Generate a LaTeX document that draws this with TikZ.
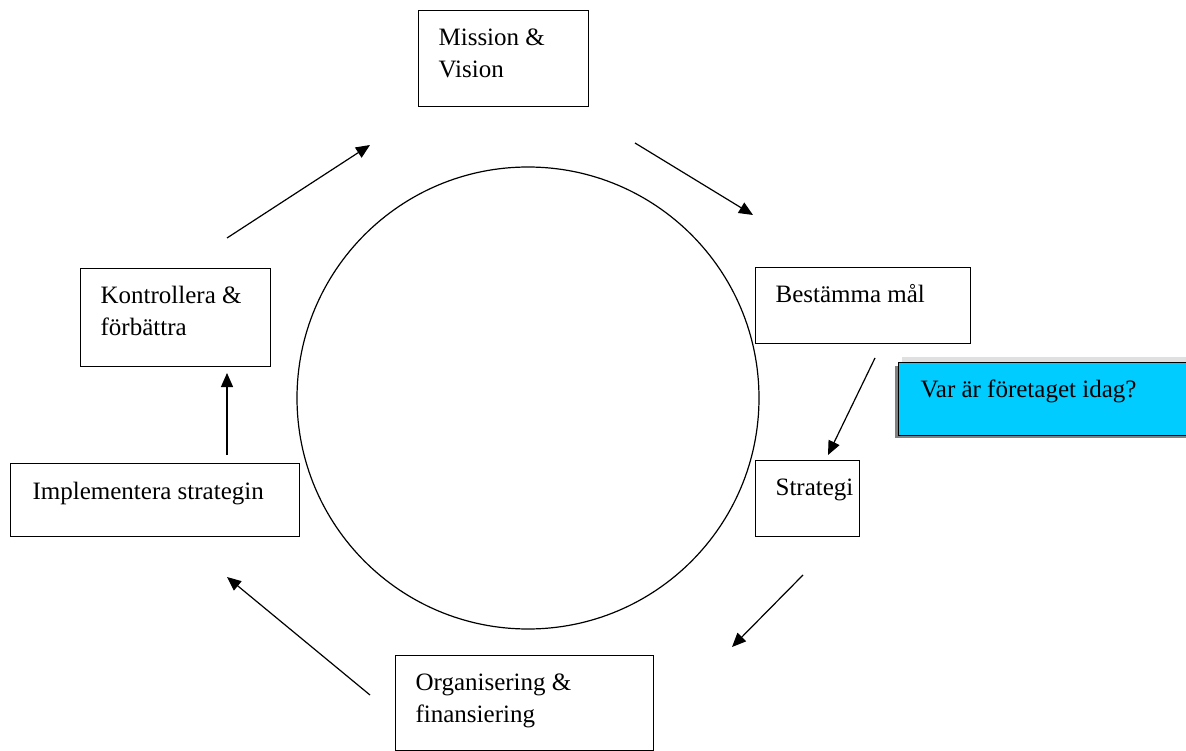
\documentclass[tikz,border=0pt]{standalone}
\usepackage{fontspec}
\setmainfont{Liberation Serif}
\usetikzlibrary{arrows.meta}
\definecolor{skyblue}{RGB}{0,204,255}

\begin{document}
\begin{tikzpicture}[x=1pt,y=-1pt,line width=1.2pt,
  box/.style={draw,rectangle,anchor=north west,inner sep=0pt},
  txt/.style={anchor=north west,inner sep=0pt,align=left,font=\fontsize{25}{32}\selectfont},
  pil/.style={-{Triangle[length=14pt,width=12pt]}}]
  \clip (0,0) rectangle (1186,751);
  % the round
  \draw (528,398) circle (231);
  % boxes
  \node[box,minimum width=170pt,minimum height=96pt] (mission) at (418,10) {};
  \node[txt] (missiontxt) at (438,26) {\rule{0pt}{19pt}Mission \&\\Vision};
  \node[box,minimum width=215pt,minimum height=76pt] (bestam) at (755,267) {};
  \node[txt] (bestamtxt) at (775,283) {\rule{0pt}{19pt}Bestämma mål};
  \fill[black!12] (902,357) rectangle (1200,362);
  \fill[black!50] (895,366) rectangle (1197,438);
  \node[box,fill=skyblue,minimum width=302pt,minimum height=73pt] (idag) at (898,362) {};
  \node[txt] (idagtxt) at (920,378) {\rule{0pt}{19pt}Var är företaget idag?};
  \node[box,minimum width=104pt,minimum height=76pt] (strategi) at (755,460) {};
  \node[txt] (strategitxt) at (775,476) {\rule{0pt}{19pt}Strategi};
  \node[box,minimum width=258pt,minimum height=95pt] (organ) at (395,655) {};
  \node[txt] (organtxt) at (415,671) {\rule{0pt}{19pt}Organisering \&\\finansiering};
  \node[box,minimum width=289pt,minimum height=73pt] (impl) at (10,463) {};
  \node[txt] (impltxt) at (32,480) {\rule{0pt}{19pt}Implementera strategin};
  \node[box,minimum width=190pt,minimum height=98pt] (kontroll) at (80,268) {};
  \node[txt] (kontrolltxt) at (100,284) {\rule{0pt}{19pt}Kontrollera \&\\förbättra};
  % arrow ends
  \coordinate (k1) at (227,238); \coordinate (m1) at (370,145);
  \coordinate (m2) at (635,143); \coordinate (b1) at (753,215);
  \coordinate (b2) at (875,358); \coordinate (s1) at (828,455);
  \coordinate (s2) at (803,575); \coordinate (o1) at (732,647);
  \coordinate (o2) at (370,695); \coordinate (i1) at (227,577);
  \coordinate (i2) at (227,455); \coordinate (k2) at (227,373);
  \draw[pil] (k1) -- (m1);
  \draw[pil] (m2) -- (b1);
  \draw[pil] (b2) -- (s1);
  \draw[pil] (s2) -- (o1);
  \draw[pil] (o2) -- (i1);
  \draw[pil] (i2) -- (k2);
\end{tikzpicture}
\end{document}
